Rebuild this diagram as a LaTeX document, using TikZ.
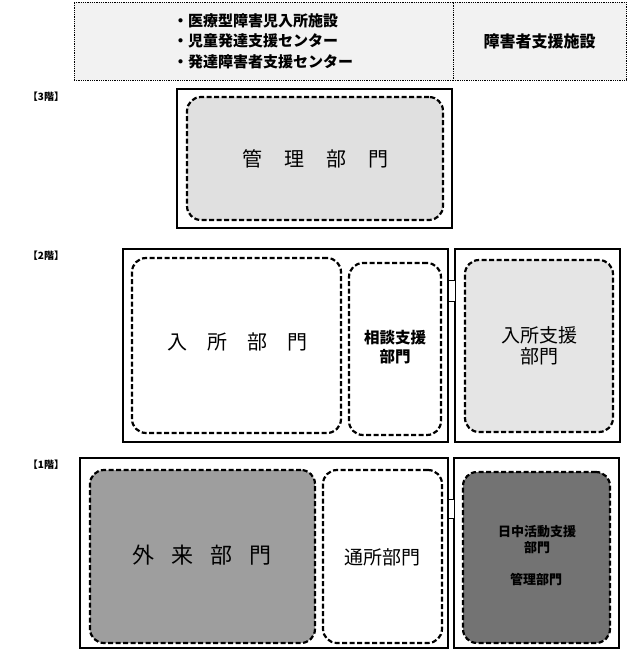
\documentclass[tikz,border=0pt]{standalone}
\usepackage{fontspec}
\setmainfont{Noto Sans CJK JP}
\begin{document}
\begin{tikzpicture}[x=1pt,y=-1pt,
  topbox/.style={draw, densely dotted, line width=0.8pt, fill=black!5, inner sep=0pt},
  outerbox/.style={draw, line width=1.8pt, inner sep=0pt},
  innerbox/.style={draw, line width=2.2pt, dash pattern=on 5pt off 2.5pt, rounded corners=14pt, inner sep=0pt},
  link/.style={draw, line width=1pt, fill=white, inner sep=0pt},
  floorlbl/.style={font=\bfseries\fontsize{10}{11}\selectfont, inner sep=0pt},
  bigtxt/.style={font=\fontsize{20}{24}\selectfont, inner sep=0pt},
  midtxt/.style={font=\bfseries\fontsize{15.5}{19.5}\selectfont, align=center, inner sep=0pt},
  smalltxt/.style={font=\bfseries\fontsize{13}{16}\selectfont, align=center, inner sep=0pt}]
\useasboundingbox (0,0) rectangle (639,651);

% top boxes
\node[topbox, minimum width=379pt, minimum height=78pt] (topL) at (263.5,41) {};
\node[topbox, minimum width=173pt, minimum height=78pt] (topR) at (539.5,41) {};
\node[anchor=west, align=left, inner sep=0pt, font=\bfseries\fontsize{15}{20.5}\selectfont] (toptxt) at (173,41)
  {・医療型障害児入所施設\\・児童発達支援センター\\・発達障害者支援センター};
\node[font=\bfseries\fontsize{16}{19}\selectfont, inner sep=0pt] (toprtxt) at (topR) {障害者支援施設};

% 3F
\node[floorlbl] (l3) at (46,97) {【3階】};
\node[outerbox, minimum width=275pt, minimum height=139pt] (f3) at (314.5,158.5) {};
\node[innerbox, fill=black!12, minimum width=256pt, minimum height=123pt] (kanri) at (315,158.5) {};
\node[bigtxt] (kanritxt) at (kanri) {管\hspace{22pt}理\hspace{22pt}部\hspace{22pt}門};

% 2F
\node[floorlbl] (l2) at (46,256) {【2階】};
\node[outerbox, minimum width=325pt, minimum height=193pt] (f2L) at (285.5,345.5) {};
\node[outerbox, minimum width=165pt, minimum height=193pt] (f2R) at (537.5,345.5) {};
\node[link, minimum width=7pt, minimum height=21pt] (c2) at (451.5,290.5) {};
\node[innerbox, fill=white, minimum width=209pt, minimum height=175pt] (nyusho) at (236.5,345.5) {};
\node[bigtxt] (nyushotxt) at (237,342) {入\hspace{20pt}所\hspace{20pt}部\hspace{20pt}門};
\node[innerbox, fill=white, minimum width=92pt, minimum height=172pt] (sodan) at (395,349) {};
\node[midtxt] (sodantxt) at (395,347) {相談支援\\部門};
\node[innerbox, fill=black!10, minimum width=148pt, minimum height=172pt] (shien) at (539,346) {};
\node[font=\fontsize{19}{21}\selectfont, align=center, inner sep=0pt] (shientxt) at (539,346) {入所支援\\部門};

% 1F
\node[floorlbl] (l1) at (46,465) {【1階】};
\node[outerbox, minimum width=368pt, minimum height=190pt] (f1L) at (264,553) {};
\node[outerbox, minimum width=165pt, minimum height=190pt] (f1R) at (536.5,553) {};
\node[link, minimum width=6pt, minimum height=19pt] (c1) at (451,508.5) {};
\node[innerbox, fill=black!38, minimum width=225pt, minimum height=173pt] (gairai) at (202.5,556.5) {};
\node[font=\fontsize{22}{24}\selectfont, inner sep=0pt] (gairaitxt) at (202,555) {外\hspace{17pt}来\hspace{17pt}部\hspace{17pt}門};
\node[innerbox, fill=white, minimum width=119pt, minimum height=173pt] (tsusho) at (382.5,556.5) {};
\node[font=\fontsize{19}{21}\selectfont, inner sep=0pt] (tsushotxt) at (382.5,557) {通所部門};
\node[innerbox, fill=black!55, minimum width=147pt, minimum height=171pt] (nicchu) at (536.5,557.5) {};
\node[smalltxt] (nicchutxt) at (537,540) {日中活動支援\\部門};
\node[smalltxt] (kanri1txt) at (536,580) {管理部門};
\end{tikzpicture}
\end{document}
